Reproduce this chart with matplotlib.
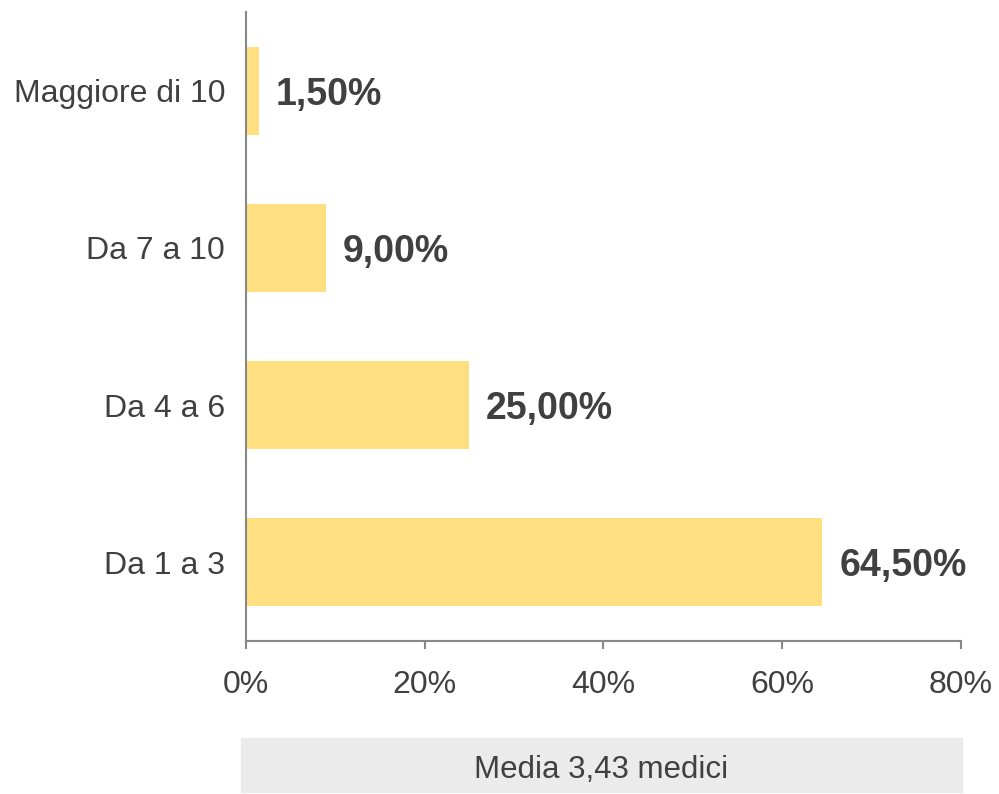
import matplotlib.pyplot as plt
from matplotlib.patches import Rectangle

categorie = ['Da 1 a 3', 'Da 4 a 6', 'Da 7 a 10', 'Maggiore di 10']
valori = [64.5, 25.0, 9.0, 1.5]
etichette = ['64,50%', '25,00%', '9,00%', '1,50%']
tick_x = [0, 20, 40, 60, 80]
nota = 'Media 3,43 medici'

plt.rcParams['font.family'] = ['Liberation Sans', 'DejaVu Sans']

fig = plt.figure(figsize=(9.99, 7.94), dpi=100)
ax = fig.add_axes([0.2462, 0.1927, 0.7158, 0.7922])

pos = range(len(categorie))
ax.barh(pos, valori, height=0.56, color='#FFDF80')

# etichette dei valori a destra delle barre
for y, v, t in zip(pos, valori, etichette):
    ax.annotate(t, (v, y), xytext=(12, 0), textcoords='offset points',
                va='center_baseline', ha='left', fontsize=27, fontweight='bold',
                color='#404040')

ax.set_xlim(0, 80)
ax.set_ylim(-0.5, 3.5)
ax.set_yticks(list(pos))
ax.set_yticklabels(categorie)
ax.set_xticks(tick_x)
ax.set_xticklabels([f'{t}%' for t in tick_x])

for s in ['top', 'right']:
    ax.spines[s].set_visible(False)
for s in ['left', 'bottom']:
    ax.spines[s].set_color('#888888')
    ax.spines[s].set_linewidth(1.5)

ax.tick_params(axis='y', length=0, pad=15, labelsize=23, labelcolor='#404040')
ax.tick_params(axis='x', length=6, width=1.5, color='#888888', pad=15,
               labelsize=23, labelcolor='#404040')

# riquadro grigio con la media
fig.patches.append(Rectangle((241 / 999, 2 / 794), 721 / 999, 54 / 794,
                             transform=fig.transFigure, color='#EBEBEB', zorder=0))
fig.text(601 / 999, 24 / 794, nota, ha='center', va='center', fontsize=22.5,
         color='#404040')

fig.savefig('out.png', dpi=100)
